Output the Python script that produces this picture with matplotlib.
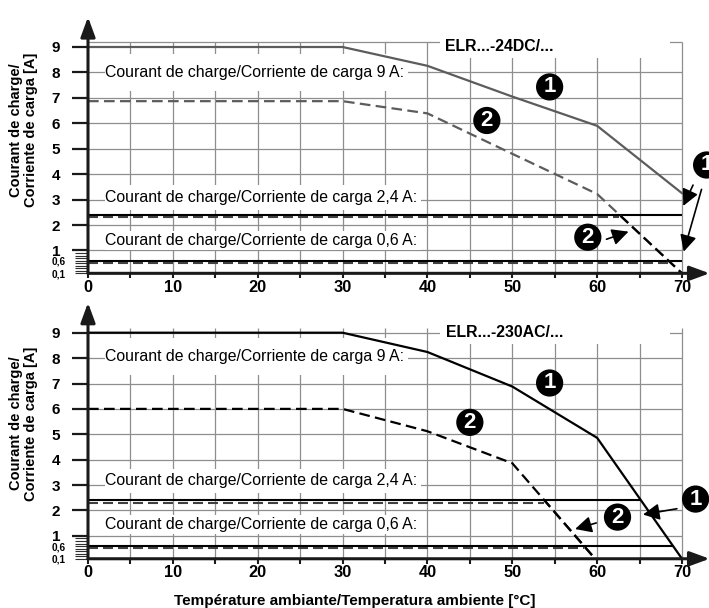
import matplotlib
matplotlib.use("Agg")
import matplotlib.pyplot as plt
import matplotlib.patches as patches
import matplotlib.transforms as mtransforms
import numpy as np

plt.rcParams["font.family"] = ["Liberation Sans", "DejaVu Sans"]

# --- data ---
temp_ticks = [0, 10, 20, 30, 40, 50, 60, 70]
temp_minor = [5, 15, 25, 35, 45, 55, 65]
grid_temps = [5, 10, 15, 20, 25, 30, 35, 40, 45, 50, 55, 60, 65, 70]
current_ticks = [1, 2, 3, 4, 5, 6, 7, 8, 9]
current_ladder = [0.1, 0.2, 0.3, 0.4, 0.5, 0.6, 0.7, 0.8, 0.9]
ladder_labels = ["0,1", "", "", "", "", "0,6", "", "", ""]
grid_currents = [1, 2, 3, 4, 5, 6, 7, 8]

limit_levels = [2.4, 0.6]
label_9a = "Courant de charge/Corriente de carga 9 A:"
limit_labels = ["Courant de charge/Corriente de carga 2,4 A:",
                "Courant de charge/Corriente de carga 0,6 A:"]

# ELR...-24DC/...
dc_temp_1 = [0, 30, 40, 50, 60, 70]
dc_curr_1 = [9.0, 9.0, 8.26, 7.05, 5.9, 3.25]
dc_temp_2 = [0, 30, 40, 50, 60, 70]
dc_curr_2 = [6.87, 6.87, 6.39, 4.8, 3.22, 0.1]

# ELR...-230AC/...
ac_temp_1 = [0, 30, 40, 50, 60, 70]
ac_curr_1 = [9.0, 9.0, 8.24, 6.88, 4.86, 0.1]
ac_temp_2 = [0, 30, 40, 50, 59.5]
ac_curr_2 = [6.0, 6.0, 5.12, 3.86, 0.2]

fig = plt.figure(figsize=(7.09, 6.08), dpi=100)
W, H = 709, 608
px_x = 594 / 70.0
x_lo, x_hi = -0.5, 73.15


def add_panel(y_top_px, px_y, t1, c1, t2, c2, color, title, title_x,
              y9_label, y24_label, y06_label, grid_top, ylab_y):
    y_lo, y_hi = 0.0, 10.25
    top = y_top_px - (y_hi - 9) * px_y
    bot = y_top_px + 9 * px_y
    left = 88 - (0 - x_lo) * px_x
    ax = fig.add_axes([left / W, 1 - bot / H, (x_hi - x_lo) * px_x / W, (bot - top) / H])
    ax.set_xlim(x_lo, x_hi)
    ax.set_ylim(y_lo, y_hi)
    ax.patch.set_visible(False)

    # grid
    ax.vlines(grid_temps, 0.1, 9.2, color="#8e8e8e", lw=0.9, zorder=1)
    ax.hlines(grid_currents + [grid_top], 0, 70, color="#8e8e8e", lw=0.9, zorder=1)

    # limit lines: solid up to curve 1, dashed up to curve 2
    shift = mtransforms.ScaledTranslation(0, -2.2 / 100, fig.dpi_scale_trans)
    for lvl in limit_levels:
        x_end1 = np.interp(lvl, c1[::-1], t1[::-1])
        x_end2 = np.interp(lvl, c2[::-1], t2[::-1])
        ax.plot([0, x_end1], [lvl, lvl], color="black", lw=1.5, zorder=2,
                solid_capstyle="butt")
        ax.plot([0, x_end2], [lvl, lvl], color="#404040", lw=1.5, zorder=2,
                dashes=(4.8, 2.4), transform=ax.transData + shift)

    # derating curves
    clip = patches.Rectangle((x_lo, y_lo), x_hi - x_lo, limit_levels[0] - y_lo,
                             transform=ax.transData, fill=False, visible=False)
    ax.add_patch(clip)
    ax.plot(t1, c1, color=color, lw=1.6, zorder=3)
    ax.plot(t2, c2, color=color, lw=1.6, dashes=(4.8, 2.4), zorder=3)
    l2, = ax.plot(t2, c2, color="black", lw=1.6, dashes=(4.8, 2.4), zorder=3)
    l2.set_clip_path(clip)

    # labels with white masks behind them
    renderer = fig.canvas.get_renderer()
    inv = ax.transData.inverted()
    masks = [(label_9a, y9_label, 0.72), (limit_labels[0], y24_label, 0.48),
             (limit_labels[1], y06_label, 0.38)]
    for txt, y, h in masks:
        t = ax.text(2.05, y, txt, fontsize=11.4, va="center", ha="left", zorder=5)
        bb = t.get_window_extent(renderer)
        x0 = inv.transform((bb.x0, bb.y0))[0]
        x1 = inv.transform((bb.x1, bb.y1))[0]
        ax.add_patch(patches.Rectangle((x0 - 0.1, y - h), x1 - x0 + 0.5, 2 * h,
                                       fc="white", ec="none", zorder=1.5))
    ax.text(title_x, 9.0, title, fontsize=11.4, fontweight="bold",
            ha="center", va="center", zorder=5)
    ax.add_patch(patches.Rectangle((41.5, 8.57), 68.6 - 41.5, 0.9,
                                   fc="white", ec="none", zorder=1.5))

    # axes lines with arrows
    ax.spines["left"].set_position(("data", 0))
    ax.spines["bottom"].set_position(("data", 0.1))
    for s in ["top", "right", "left", "bottom"]:
        ax.spines[s].set_visible(False)
    ap = dict(arrowstyle="-|>,head_length=0.6,head_width=0.22", lw=2.2,
              color="#1a1a1a", shrinkA=0, shrinkB=0, mutation_scale=20)
    ax.annotate("", xy=(0, 10.18), xytext=(0, 0.1), arrowprops=ap, zorder=6)
    ax.annotate("", xy=(x_hi + 0.1, 0.1), xytext=(0, 0.1), arrowprops=ap,
                zorder=6, annotation_clip=False)

    # ticks
    ax.set_xticks(temp_ticks, labels=[str(v) for v in temp_ticks])
    ax.set_xticks(temp_minor, minor=True)
    ax.tick_params(axis="x", which="both", direction="out", length=3.5,
                   width=1.5, pad=1, labelsize=11.8, color="#1a1a1a")
    for lab in ax.get_xticklabels():
        lab.set_fontweight("bold")
    ax.set_yticks(current_ticks, labels=[str(v) for v in current_ticks])
    ax.set_yticks(current_ladder, labels=ladder_labels, minor=True)
    ax.tick_params(axis="y", which="major", direction="out", length=11.5,
                   width=1.6, pad=8.5, labelsize=11, color="#1a1a1a")
    ax.tick_params(axis="y", which="minor", direction="out", length=9.3,
                   width=0.8, pad=7.0, labelsize=7.2, color="#303030")
    for lab in ax.get_yticklabels() + ax.get_yticklabels(minor=True):
        lab.set_fontweight("bold")

    ax.set_ylabel("Courant de charge/\nCorriente de carga [A]", fontsize=10.5,
                  fontweight="bold", linespacing=1.05)
    ax.yaxis.set_label_coords((38 - left) / ((x_hi - x_lo) * px_x), ylab_y)
    return ax


def badge(ax, x, y, num):
    ax.text(x, y, num, fontsize=16, fontweight="bold", color="white",
            ha="center", va="center", zorder=7, clip_on=False,
            bbox=dict(boxstyle="circle,pad=0.14", fc="black", ec="none"))


def arrow(ax, start, tip):
    ax.annotate("", xy=tip, xytext=start, zorder=7, annotation_clip=False,
                arrowprops=dict(arrowstyle="-|>,head_length=0.5,head_width=0.25",
                                lw=1.2, color="black", shrinkA=0, shrinkB=0,
                                mutation_scale=20))


ax1 = add_panel(47, 25.43, dc_temp_1, dc_curr_1, dc_temp_2, dc_curr_2, "#5c5c5c",
                "ELR...-24DC/...", 48.5, 8.0, 3.08, 1.4, 9.2, 0.56)
badge(ax1, 54.4, 7.43, "1")
badge(ax1, 47.0, 6.11, "2")
badge(ax1, 72.9, 4.36, "1")
arrow(ax1, (71.3, 3.57), (70.15, 2.75))
arrow(ax1, (72.3, 3.4), (70.2, 0.95))
badge(ax1, 58.9, 1.52, "2")
arrow(ax1, (61.1, 1.44), (63.7, 1.74))

ax2 = add_panel(332.7, 25.4, ac_temp_1, ac_curr_1, ac_temp_2, ac_curr_2, "black",
                "ELR...-230AC/...", 49.1, 8.06, 3.17, 1.45, 9.0, 0.53)
badge(ax2, 54.4, 7.02, "1")
badge(ax2, 45.0, 5.47, "2")
badge(ax2, 71.6, 2.45, "1")
arrow(ax2, (69.4, 2.07), (65.4, 1.84))
badge(ax2, 62.4, 1.74, "2")
arrow(ax2, (59.9, 1.51), (57.4, 1.27))
ax2.set_xlabel("Température ambiante/Temperatura ambiente [°C]", fontsize=11,
               fontweight="bold", labelpad=1)
ax2.xaxis.set_label_coords((355 - (88 + x_lo * px_x)) / ((x_hi - x_lo) * px_x), -0.125)

fig.savefig("out.png", dpi=100)
